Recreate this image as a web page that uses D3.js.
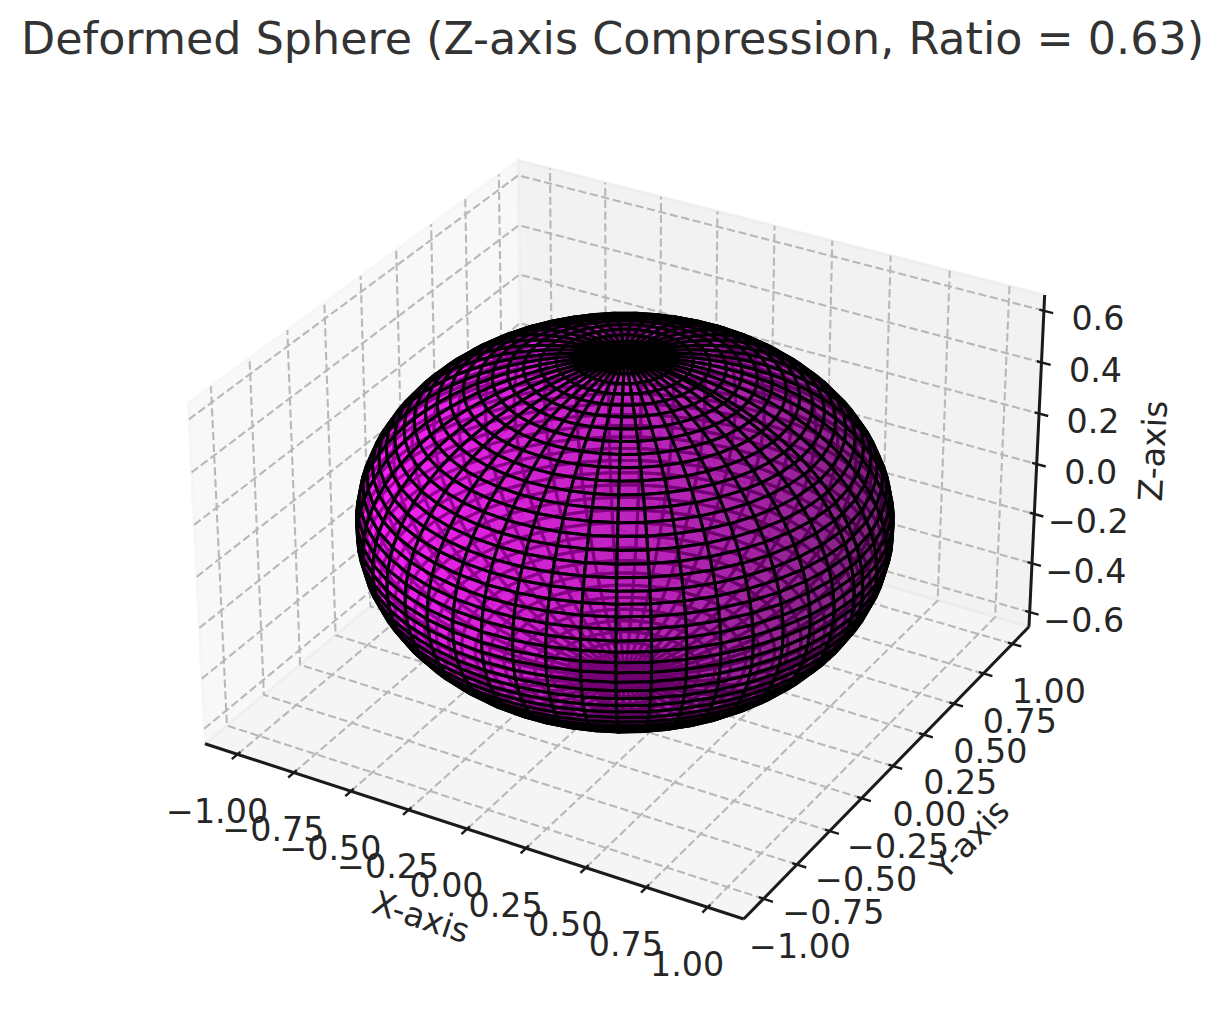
<!DOCTYPE html>
<html>
<head>
<meta charset="utf-8">
<script src="https://cdn.jsdelivr.net/npm/d3@7"></script>
<style>
  html, body { margin: 0; background: #fff; }
  text { font-family: "DejaVu Sans", sans-serif; }
</style>
</head>
<body>
<svg id="chart" width="1225" height="1014"></svg>
<script>
const titleText = 'Deformed Sphere (Z-axis Compression, Ratio = 0.63)';
const xTicks = [-1, -0.75, -0.5, -0.25, 0, 0.25, 0.5, 0.75, 1];
const yTicks = [-1, -0.75, -0.5, -0.25, 0, 0.25, 0.5, 0.75, 1];
const zTicks = [-0.6, -0.4, -0.2, 0, 0.2, 0.4, 0.6];
const xLimit = [-1.1, 1.1];
const yLimit = [-1.1, 1.1];
const zLimit = [-0.634, 0.634];
const ratio = 0.63;
const sampleCount = 100;
const meshStride = 2;
const surfaceAlpha = 0.62;

const width = 1225;
const height = 1014;
const svg = d3.select('#chart');

// same camera as a matplotlib 3d axes, elev 30 azim -60
const elev = 30 * Math.PI / 180;
const azim = -60 * Math.PI / 180;
const aspect = [1, 1, 0.63];
const aspectNorm = Math.hypot(...aspect);
const box = aspect.map(a => a * 1.8294640721620434 / aspectNorm);

const xWorld = d3.scaleLinear().domain(xLimit).range([0, box[0]]);
const yWorld = d3.scaleLinear().domain(yLimit).range([0, box[1]]);
const zWorld = d3.scaleLinear().domain(zLimit).range([0, box[2]]);

const dot = (a, b) => a[0] * b[0] + a[1] * b[1] + a[2] * b[2];
const cross = (a, b) => [a[1] * b[2] - a[2] * b[1], a[2] * b[0] - a[0] * b[2], a[0] * b[1] - a[1] * b[0]];
const unit = a => { const n = Math.hypot(...a) || 1; return a.map(v => v / n); };

const viewW = [Math.cos(elev) * Math.cos(azim), Math.cos(elev) * Math.sin(azim), Math.sin(elev)];
const viewU = unit(cross([0, 0, 1], viewW));
const viewV = cross(viewW, viewU);
const eye = box.map((b, i) => b / 2 + 10 * viewW[i]);

function camera(p) {
  const rel = [xWorld(p[0]) - eye[0], yWorld(p[1]) - eye[1], zWorld(p[2]) - eye[2]];
  const depth = -dot(rel, viewW);
  return { x: dot(rel, viewU) / depth, y: dot(rel, viewV) / depth, depth };
}

// pane corners sit a 48th of the range outside the limits
const pad = lim => (lim[1] - lim[0]) / 48;
const xPane = [xLimit[0] - pad(xLimit), xLimit[1] + pad(xLimit)];
const yPane = [yLimit[0] - pad(yLimit), yLimit[1] + pad(yLimit)];
const zPane = [zLimit[0] - pad(zLimit), zLimit[1] + pad(zLimit)];

const screenX = d3.scaleLinear()
  .domain([camera([xPane[0], yPane[0], zPane[0]]).x, camera([xPane[1], yPane[1], zPane[0]]).x])
  .range([205, 1029]);
const screenY = d3.scaleLinear()
  .domain([camera([xPane[1], yPane[0], zPane[0]]).y, camera([xPane[1], yPane[1], zPane[1]]).y])
  .range([919, 295]);

function project(p) {
  const c = camera(p);
  return [screenX(c.x), screenY(c.y)];
}

const line3d = d3.line();
const path3d = pts => line3d(pts.map(project));
const closed3d = pts => path3d(pts) + 'Z';

// panes
const panes = [
  { fill: 'rgba(230,230,230,0.5)', pts: [[xPane[0], yPane[1], zPane[0]], [xPane[1], yPane[1], zPane[0]], [xPane[1], yPane[1], zPane[1]], [xPane[0], yPane[1], zPane[1]]] },
  { fill: 'rgba(242,242,242,0.5)', pts: [[xPane[0], yPane[0], zPane[0]], [xPane[0], yPane[1], zPane[0]], [xPane[0], yPane[1], zPane[1]], [xPane[0], yPane[0], zPane[1]]] },
  { fill: 'rgba(236,236,236,0.5)', pts: [[xPane[0], yPane[0], zPane[0]], [xPane[1], yPane[0], zPane[0]], [xPane[1], yPane[1], zPane[0]], [xPane[0], yPane[1], zPane[0]]] }
];
svg.append('g').selectAll('path').data(panes).join('path')
  .attr('d', d => closed3d(d.pts))
  .attr('fill', d => d.fill)
  .attr('stroke', d => d.fill)
  .attr('stroke-width', 2.8);

// grid
const gridLines = [
  ...xTicks.map(v => [[v, yPane[0], zPane[0]], [v, yPane[1], zPane[0]], [v, yPane[1], zPane[1]]]),
  ...yTicks.map(v => [[xPane[1], v, zPane[0]], [xPane[0], v, zPane[0]], [xPane[0], v, zPane[1]]]),
  ...zTicks.map(v => [[xPane[0], yPane[0], v], [xPane[0], yPane[1], v], [xPane[1], yPane[1], v]])
];
svg.append('g').selectAll('path').data(gridLines).join('path')
  .attr('d', path3d)
  .attr('fill', 'none')
  .attr('stroke', '#b8b8b8')
  .attr('stroke-width', 2.1)
  .attr('stroke-dasharray', '8.2 3.6');

// axis lines and ticks
const axisInk = '#1a1a1a';
const textInk = '#262626';
const axisLines = [
  [[xPane[0], yPane[0], zPane[0]], [xPane[1], yPane[0], zPane[0]]],
  [[xPane[1], yPane[0], zPane[0]], [xPane[1], yPane[1], zPane[0]]],
  [[xPane[1], yPane[1], zPane[0]], [xPane[1], yPane[1], zPane[1]]]
];
svg.append('g').selectAll('path').data(axisLines).join('path')
  .attr('d', path3d)
  .attr('fill', 'none')
  .attr('stroke', axisInk)
  .attr('stroke-width', 3);

const yDelta = (yLimit[1] - yLimit[0]) * (25 / 24) / 12;
const xDelta = (xLimit[1] - xLimit[0]) * (25 / 24) / 12;
const tickOut = 0.2;
const tickIn = 0.1;
const tickMarks = [
  ...xTicks.map(v => [[v, yPane[0] - tickOut * yDelta, zPane[0]], [v, yPane[0] + tickIn * yDelta, zPane[0]]]),
  ...yTicks.map(v => [[xPane[1] + tickOut * xDelta, v, zPane[0]], [xPane[1] - tickIn * xDelta, v, zPane[0]]]),
  ...zTicks.map(v => [[xPane[1] + tickOut * xDelta, yPane[1], v], [xPane[1] - tickIn * xDelta, yPane[1], v]])
];
svg.append('g').selectAll('path').data(tickMarks).join('path')
  .attr('d', path3d)
  .attr('fill', 'none')
  .attr('stroke', axisInk)
  .attr('stroke-width', 2.4);

// tick labels
const tickLabel = (v, digits) => (v < 0 ? '\u2212' : '') + d3.format(`.${digits}f`)(Math.abs(v));
const labelRows = [
  ...xTicks.map(v => ({ text: tickLabel(v, 2), at: project([v, yPane[0], zPane[0]]), dx: -20.5, dy: 57 })),
  ...yTicks.map(v => ({ text: tickLabel(v, 2), at: project([xPane[1], v, zPane[0]]), dx: 36.5, dy: 48 })),
  ...zTicks.map(v => ({ text: tickLabel(v, 1), at: project([xPane[1], yPane[1], v]), dx: 54, dy: 8 }))
];
svg.append('g').selectAll('text').data(labelRows).join('text')
  .attr('x', d => d.at[0] + d.dx)
  .attr('y', d => d.at[1] + d.dy)
  .attr('text-anchor', 'middle')
  .attr('dominant-baseline', 'central')
  .attr('font-size', 33.3)
  .attr('fill', textInk)
  .text(d => d.text);

// surface: 100 samples per side, every second one kept plus the last, painted back to front
const sampleIndex = d3.range(0, sampleCount - 1, meshStride).concat(sampleCount - 1);
const uAngles = sampleIndex.map(i => i * 2 * Math.PI / (sampleCount - 1));
const vAngles = sampleIndex.map(i => i * Math.PI / (sampleCount - 1));
const surfacePoint = (u, v) => [Math.cos(u) * Math.sin(v), Math.sin(u) * Math.sin(v), ratio * Math.cos(v)];

const lightDir = [-Math.SQRT1_2 * Math.cos(Math.asin(1 / 3)), -Math.SQRT1_2 * Math.cos(Math.asin(1 / 3)), 1 / 3];
const shade = d3.scaleLinear().domain([-1, 1]).range([0.3, 1]);
const facets = [];
for (let i = 0; i < uAngles.length - 1; i++) {
  for (let j = 0; j < vAngles.length - 1; j++) {
    const pts = [
      surfacePoint(uAngles[i], vAngles[j]),
      surfacePoint(uAngles[i + 1], vAngles[j]),
      surfacePoint(uAngles[i + 1], vAngles[j + 1]),
      surfacePoint(uAngles[i], vAngles[j + 1])
    ];
    const diagA = pts[2].map((c, k) => c - pts[0][k]);
    const diagB = pts[3].map((c, k) => c - pts[1][k]);
    let normal = unit(cross(diagA, diagB));
    const mid = [0, 1, 2].map(k => d3.mean(pts, p => p[k]));
    if (dot(normal, mid) < 0) normal = normal.map(c => -c);
    const level = Math.round(255 * shade(dot(normal, lightDir)));
    facets.push({
      pts,
      depth: d3.mean(pts, p => camera(p).depth),
      color: `rgb(${level},0,${level})`
    });
  }
}
facets.sort((a, b) => b.depth - a.depth);

svg.append('g').selectAll('path').data(facets).join('path')
  .attr('d', d => closed3d(d.pts))
  .attr('fill', d => d.color)
  .attr('fill-opacity', surfaceAlpha)
  .attr('stroke', '#000')
  .attr('stroke-width', 3);

// axis titles
const axisTitles = [
  { text: 'X-axis', x: 421, y: 917, angle: 18.2 },
  { text: 'Y-axis', x: 970, y: 839, angle: -45.6 },
  { text: 'Z-axis', x: 1153, y: 451, angle: -87 }
];
svg.append('g').selectAll('text').data(axisTitles).join('text')
  .attr('transform', d => `translate(${d.x},${d.y}) rotate(${d.angle})`)
  .attr('text-anchor', 'middle')
  .attr('dominant-baseline', 'central')
  .attr('font-size', 33.3)
  .attr('fill', textInk)
  .text(d => d.text);

svg.append('text')
  .attr('x', width / 2)
  .attr('y', 54)
  .attr('text-anchor', 'middle')
  .attr('font-size', 44.4)
  .attr('fill', '#333')
  .text(titleText);
</script>
</body>
</html>
